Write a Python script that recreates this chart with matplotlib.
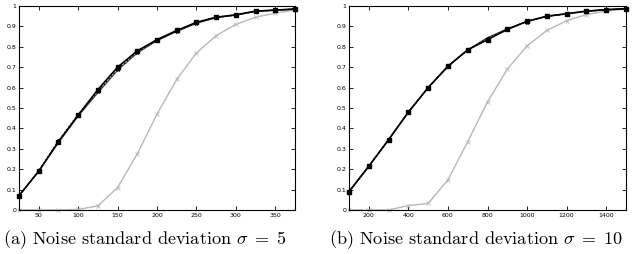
import matplotlib
matplotlib.use("Agg")
import matplotlib.pyplot as plt

plt.rcParams['mathtext.fontset'] = 'cm'

x_a = [25, 50, 75, 100, 125, 150, 175, 200, 225, 250, 275, 300, 325, 350, 375]
a_black1 = [0.07, 0.19, 0.335, 0.465, 0.59, 0.70, 0.78, 0.835, 0.88, 0.92, 0.945, 0.957, 0.975, 0.98, 0.985]
a_black2 = [0.07, 0.19, 0.33, 0.46, 0.575, 0.685, 0.77, 0.83, 0.875, 0.915, 0.943, 0.955, 0.973, 0.979, 0.985]
a_black3 = [0.07, 0.192, 0.338, 0.468, 0.582, 0.692, 0.775, 0.833, 0.878, 0.918, 0.944, 0.956, 0.974, 0.98, 0.985]
a_gray = [0.0, 0.0, 0.0, 0.003, 0.02, 0.11, 0.275, 0.47, 0.64, 0.77, 0.855, 0.91, 0.945, 0.965, 0.98]

x_b = [100, 200, 300, 400, 500, 600, 700, 800, 900, 1000, 1100, 1200, 1300, 1400, 1500]
b_black1 = [0.09, 0.215, 0.345, 0.48, 0.60, 0.705, 0.785, 0.835, 0.885, 0.925, 0.95, 0.962, 0.975, 0.982, 0.987]
b_black2 = [0.09, 0.213, 0.343, 0.478, 0.60, 0.703, 0.785, 0.845, 0.888, 0.925, 0.949, 0.962, 0.974, 0.982, 0.987]
b_black3 = [0.09, 0.214, 0.344, 0.479, 0.60, 0.704, 0.785, 0.84, 0.886, 0.924, 0.95, 0.961, 0.975, 0.981, 0.986]
b_gray = [0.0, 0.0, 0.0, 0.022, 0.032, 0.148, 0.335, 0.53, 0.69, 0.805, 0.88, 0.928, 0.958, 0.975, 0.985]

yticks = [0, 0.1, 0.2, 0.3, 0.4, 0.5, 0.6, 0.7, 0.8, 0.9, 1]
ytick_labels = ['0', '0.1', '0.2', '0.3', '0.4', '0.5', '0.6', '0.7', '0.8', '0.9', '1']
xticks_a = [50, 100, 150, 200, 250, 300, 350]
xticks_b = [200, 400, 600, 800, 1000, 1200, 1400]
captions = [r'(a) Noise standard deviation $\sigma\;=\;5$', r'(b) Noise standard deviation $\sigma\;=\;10$']

W, H = 634, 254
fig = plt.figure(figsize=(W / 100, H / 100), dpi=100)

def setup(ax, xlim, xticks):
    ax.set_xlim(*xlim)
    ax.set_ylim(0, 1)
    ax.set_xticks(xticks)
    ax.set_xticklabels([str(t) for t in xticks])
    ax.set_yticks(yticks)
    ax.set_yticklabels(ytick_labels)
    ax.tick_params(direction='in', top=True, right=True, length=3, width=0.6,
                   labelsize=4.5, pad=2)
    for s in ax.spines.values():
        s.set_linewidth(0.8)

axes_pos = [(19, 295), (349, 626)]
top, bottom = 6, 210
data = [
    (x_a, a_black1, a_black2, a_black3, a_gray, (25, 375), xticks_a),
    (x_b, b_black1, b_black2, b_black3, b_gray, (100, 1500), xticks_b),
]
for i, ((l, r), d) in enumerate(zip(axes_pos, data)):
    xs, b1, b2, b3, g, xl, xt = d
    ax = fig.add_axes([l / W, 1 - bottom / H, (r - l) / W, (bottom - top) / H])
    ax.plot(xs, g, color='#b8b8b8', lw=1.0, marker='x', ms=2.5, mew=0.6, clip_on=False)
    ax.plot(xs, b2, color='#404040', lw=0.9, ls='-', clip_on=False)
    ax.plot(xs, b3, color='black', lw=1.0, ls=':', marker='*', ms=3, clip_on=False)
    ax.plot(xs, b1, color='black', lw=1.2, ls='-', marker='s', ms=2.6, clip_on=False)
    setup(ax, xl, xt)
    fig.text((3 if i == 0 else 329) / W, 1 - 240 / H, captions[i], fontsize=13.1,
             family='cmr10', ha='left', va='center')

fig.savefig('out.png', dpi=100)
